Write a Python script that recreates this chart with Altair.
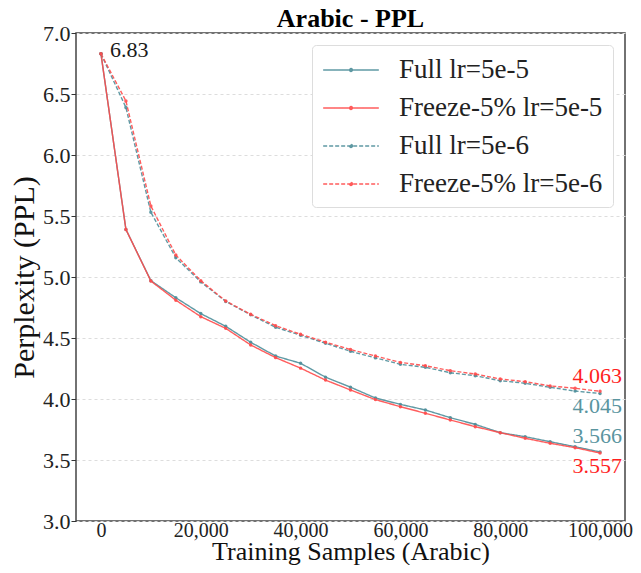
import altair as alt
import pandas as pd

samples = [0, 5000, 10000, 15000, 20000, 25000, 30000, 35000, 40000, 45000, 50000,
           55000, 60000, 65000, 70000, 75000, 80000, 85000, 90000, 95000, 100000]
full_5e5 = [6.83, 5.39, 4.97, 4.83, 4.70, 4.596, 4.465, 4.352, 4.293, 4.179, 4.097,
            4.008, 3.956, 3.91, 3.847, 3.792, 3.724, 3.691, 3.65, 3.609, 3.566]
freeze_5e5 = [6.83, 5.39, 4.967, 4.81, 4.675, 4.579, 4.443, 4.339, 4.253, 4.155, 4.074,
              3.995, 3.937, 3.883, 3.828, 3.773, 3.724, 3.678, 3.637, 3.601, 3.557]
full_5e6 = [6.83, 6.39, 5.53, 5.158, 4.96, 4.80, 4.69, 4.588, 4.522, 4.457, 4.391,
            4.337, 4.284, 4.26, 4.215, 4.191, 4.15, 4.129, 4.096, 4.065, 4.045]
freeze_5e6 = [6.83, 6.443, 5.582, 5.18, 4.97, 4.803, 4.694, 4.601, 4.53, 4.466, 4.405,
              4.352, 4.30, 4.273, 4.232, 4.205, 4.164, 4.142, 4.107, 4.088, 4.063]

series_names = ["Full lr=5e-5", "Freeze-5% lr=5e-5", "Full lr=5e-6", "Freeze-5% lr=5e-6"]
series_values = [full_5e5, freeze_5e5, full_5e6, freeze_5e6]
series_colors = ["#4E8E9A", "#FF4B4B", "#4E8E9A", "#FF4B4B"]
series_dash = [[1, 0], [1, 0], [4, 2], [4, 2]]

x_ticks = [0, 20000, 40000, 60000, 80000, 100000]
y_ticks = [3.0, 3.5, 4.0, 4.5, 5.0, 5.5, 6.0, 6.5, 7.0]

ann_x = [0, 100000, 100000, 100000, 100000]
ann_y = [6.83, 4.063, 4.045, 3.566, 3.557]
ann_text = ["6.83", "4.063", "4.045", "3.566", "3.557"]
ann_color = ["#1a1a1a", "#FF1F1F", "#5A959F", "#5A959F", "#FF1F1F"]

rows = []
for name, vals in zip(series_names, series_values):
    for s, v in zip(samples, vals):
        rows.append({"samples": s, "ppl": v, "series": name})
df = pd.DataFrame(rows)

FONT = "Liberation Serif"

xenc = alt.X("samples:Q",
             scale=alt.Scale(domain=[-5000, 105000], nice=False, zero=False),
             axis=alt.Axis(values=x_ticks, format=",.0f",
                           title="Training Samples (Arabic)", grid=False, ticks=False,
                           labelPadding=-1, labelFontSize=20,
                           titleBaseline="alphabetic", titleY=38, titleFontSize=26))
yenc = alt.Y("ppl:Q",
             scale=alt.Scale(domain=[3.0, 7.0], nice=False, zero=False),
             axis=alt.Axis(values=y_ticks, format=".1f",
                           title="Perplexity (PPL)", grid=True, gridDash=[3, 3],
                           gridColor="#dddddd", titleBaseline="middle", titleX=-52,
                           titleFontSize=30, tickSize=5, labelPadding=1))

legend_symbol = ("M-2,0H2M0.1,0A0.1,0.1 0 1,1 -0.1,0A0.1,0.1 0 1,1 0.1,0")
leg = alt.Legend(title=None, orient="none", legendX=236, legendY=12)
color = alt.Color("series:N",
                  scale=alt.Scale(domain=series_names, range=series_colors), legend=leg)
dash = alt.StrokeDash("series:N",
                      scale=alt.Scale(domain=series_names, range=series_dash), legend=leg)

layers = []
for name in series_names:
    layers.append(
        alt.Chart(df).transform_filter(alt.datum.series == name)
        .mark_line(strokeWidth=1.4, opacity=0.9,
                   point=alt.OverlayMarkDef(filled=True, size=12, opacity=0.9))
        .encode(x=xenc, y=yenc, color=color, strokeDash=dash)
    )

ann_df = pd.DataFrame({"samples": ann_x, "ppl": ann_y, "label": ann_text})
offsets = [(9, -4, "left"), (22, -15, "right"), (22, 12, "right"), (22, -16, "right"), (22, 13, "right")]
for i, (dx, dy, al) in enumerate(offsets):
    layers.append(
        alt.Chart(ann_df.iloc[[i]]).mark_text(dx=dx, dy=dy, align=al, baseline="middle",
                                              font=FONT, fontSize=22)
        .encode(x=xenc, y=yenc, text="label:N", color=alt.value(ann_color[i]))
    )

chart = alt.layer(*layers).properties(
    width=549, height=488,
    title=alt.Title("Arabic - PPL", font=FONT, fontSize=26, fontWeight="bold", color="#000000",
                    anchor="middle", offset=-10),
    autosize=alt.AutoSizeParams(type="none"),
    padding={"left": 68, "top": 25, "right": 8, "bottom": 44},
).configure_view(
    stroke="#444444", strokeWidth=1.5
).configure_axis(
    labelFont=FONT, titleFont=FONT, labelFontSize=22,
    labelColor="#222222", titleColor="#111111", titleFontWeight="normal",
    domain=False, tickColor="#333333"
).configure_legend(
    labelFont=FONT, labelFontSize=27, labelColor="#222222",
    symbolType=legend_symbol, symbolSize=775, symbolStrokeWidth=1.5,
    fillColor="white", strokeColor="#dddddd", cornerRadius=4, padding=10,
    rowPadding=10, symbolOffset=14, labelOffset=33, labelLimit=400
)

chart.save("out.html", embed_options={"renderer": "svg", "actions": False})
